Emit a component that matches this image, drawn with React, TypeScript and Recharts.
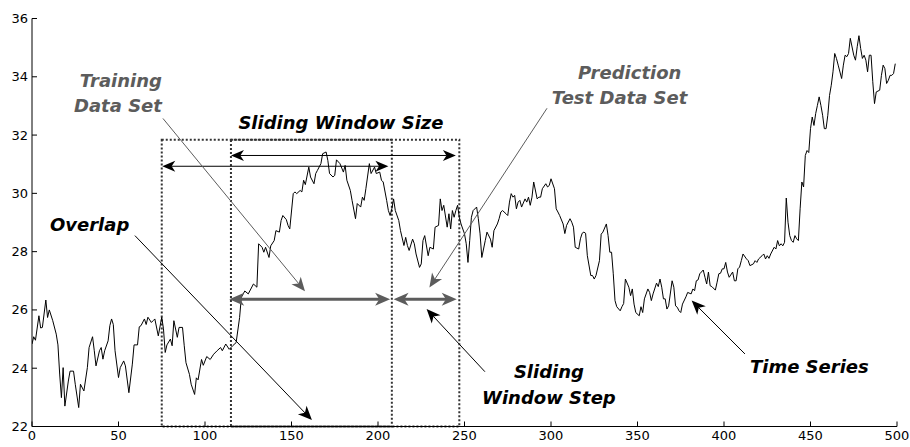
import React from "react"
import {
  LineChart,
  Line,
  XAxis,
  YAxis,
  ReferenceLine,
  ReferenceArea,
  ReferenceDot,
} from "recharts"

// time index of each sample
const steps = [
  0, 1, 2, 4, 5, 6, 8, 9, 10, 12, 14, 15, 16, 17, 18, 19, 21, 22, 24, 25, 27, 28, 30, 32, 33, 35, 36, 37, 39, 40,
  41, 42, 44, 45, 46, 47, 48, 50, 51, 53, 54, 56, 58, 59, 61, 62, 63, 65, 66, 67, 69, 70, 71, 73, 75, 76, 77, 78, 80, 81,
  82, 84, 85, 87, 88, 89, 91, 92, 94, 95, 96, 98, 99, 101, 103, 105, 107, 109, 110, 112, 114, 116, 118, 120, 121, 123, 125, 128, 130, 131,
  133, 134, 135, 137, 138, 140, 141, 143, 144, 145, 147, 148, 149, 151, 152, 153, 155, 156, 157, 158, 160, 161, 163, 164, 165, 167, 168, 170, 171, 172,
  174, 175, 176, 178, 180, 181, 182, 184, 185, 187, 188, 190, 191, 192, 193, 195, 196, 198, 199, 201, 202, 203, 205, 206, 207, 208, 209, 210, 212, 213,
  215, 216, 217, 218, 220, 221, 222, 224, 225, 226, 227, 229, 230, 232, 233, 235, 236, 237, 238, 240, 241, 242, 243, 244, 245, 246, 247, 248, 250, 251,
  252, 253, 254, 255, 257, 258, 259, 260, 262, 263, 265, 266, 267, 269, 270, 271, 272, 274, 275, 276, 277, 278, 279, 280, 281, 282, 283, 285, 286, 287,
  288, 289, 290, 292, 293, 294, 295, 297, 298, 299, 300, 302, 303, 304, 305, 307, 308, 309, 311, 312, 313, 314, 316, 317, 318, 319, 320, 321, 323, 324,
  325, 326, 328, 329, 330, 332, 333, 334, 335, 336, 337, 338, 340, 341, 342, 343, 345, 346, 347, 348, 349, 351, 352, 353, 354, 356, 357, 358, 359, 361,
  362, 363, 364, 365, 366, 367, 368, 370, 371, 372, 373, 374, 375, 376, 378, 379, 381, 382, 383, 384, 385, 386, 388, 389, 390, 391, 392, 393, 395, 396,
  397, 398, 399, 400, 401, 402, 403, 405, 406, 407, 408, 409, 410, 411, 413, 414, 415, 417, 418, 419, 420, 422, 423, 424, 425, 426, 427, 429, 430, 431,
  432, 433, 434, 435, 436, 437, 438, 439, 440, 441, 442, 443, 444, 445, 446, 447, 448, 449, 450, 451, 452, 453, 454, 455, 456, 457, 458, 459, 460, 461,
  462, 463, 464, 465, 466, 468, 469, 470, 471, 472, 473, 475, 476, 477, 478, 479, 480, 481, 482, 483, 484, 485, 486, 487, 488, 490, 491, 492, 493, 494,
  495, 496, 497, 498, 499,
]

// observed value of the series
const prices = [
  24.83, 25.08, 24.96, 25.8, 25.38, 25.4, 26.34, 25.74, 26.0, 25.63, 25.17, 24.8, 23.8, 22.99, 24.02, 22.7, 23.56, 23.9, 23.9, 23.45, 22.65, 23.45, 23.22, 24.02, 24.71, 25.08, 24.6, 24.08, 24.6, 24.71,
  24.31, 24.6, 24.94, 25.46, 25.69, 25.5, 24.6, 23.68, 24.02, 24.25, 24.08, 23.16, 24.14, 24.8, 24.8, 25.42, 25.46, 25.69, 25.5, 25.75, 25.57, 25.63, 25.69, 25.11, 25.75, 25.35, 24.54, 24.8, 25.0, 24.77,
  25.63, 25.06, 25.4, 25.4, 24.77, 24.19, 23.79, 23.45, 23.1, 23.67, 23.6, 24.3, 24.1, 24.4, 24.3, 24.48, 24.6, 24.71, 24.6, 24.83, 24.65, 24.77, 24.88, 25.74, 26.43, 26.65, 26.55, 26.89, 26.78, 28.27,
  28.15, 27.98, 28.15, 27.8, 28.2, 28.38, 28.72, 28.67, 29.07, 29.24, 29.1, 28.9, 28.78, 29.99, 30.05, 29.99, 30.1, 30.05, 30.45, 30.3, 30.9, 30.56, 30.33, 30.68, 30.79, 31.02, 31.36, 31.42, 31.13, 30.68,
  30.56, 30.62, 31.15, 31.02, 30.73, 30.96, 30.45, 30.1, 29.76, 29.13, 29.65, 29.53, 29.87, 29.76, 30.16, 31.02, 30.68, 30.9, 30.68, 30.73, 30.45, 30.39, 29.76, 29.41, 29.24, 29.47, 29.81, 29.41, 29.07, 28.72,
  28.21, 28.49, 28.21, 28.04, 28.43, 28.27, 27.92, 27.46, 27.58, 28.38, 28.55, 27.86, 28.15, 28.09, 28.84, 28.9, 29.81, 29.41, 29.59, 28.84, 29.3, 28.78, 29.41, 29.18, 29.41, 29.59, 29.18, 28.95, 28.61, 28.27,
  27.63, 28.38, 29.18, 29.41, 29.53, 29.13, 28.61, 27.8, 28.38, 28.67, 28.43, 28.15, 28.72, 28.95, 29.13, 29.36, 29.41, 29.3, 29.24, 29.7, 29.99, 29.87, 29.93, 29.47, 29.7, 29.76, 29.53, 29.81, 29.7, 29.87,
  29.59, 29.87, 30.39, 29.81, 29.87, 29.87, 30.16, 30.33, 30.22, 30.27, 30.5, 30.16, 29.47, 29.36, 29.24, 28.95, 28.62, 28.9, 29.13, 29.01, 28.84, 28.15, 28.09, 28.44, 28.63, 28.67, 28.63, 27.86, 27.18, 27.18,
  27.06, 27.18, 27.69, 28.6, 28.67, 28.95, 28.55, 27.98, 27.98, 27.24, 26.32, 26.11, 25.97, 26.11, 26.22, 27.06, 26.78, 26.49, 26.72, 26.2, 25.91, 25.8, 26.11, 25.91, 26.38, 26.72, 26.6, 26.32, 26.55, 26.92,
  26.8, 27.06, 26.78, 26.38, 26.38, 26.03, 26.14, 27.0, 26.78, 26.14, 26.09, 25.97, 25.91, 26.2, 26.45, 26.6, 26.55, 26.72, 26.66, 27.0, 27.03, 27.24, 27.37, 27.12, 26.89, 27.3, 26.83, 26.8, 26.68, 26.95,
  27.24, 27.26, 27.41, 27.41, 27.63, 27.3, 27.12, 27.3, 27.0, 27.0, 27.41, 27.47, 27.69, 27.92, 27.75, 27.69, 27.52, 27.58, 27.69, 27.63, 27.75, 27.86, 27.92, 27.75, 27.86, 27.77, 27.92, 28.15, 28.09, 28.38,
  28.2, 28.27, 28.2, 28.32, 29.84, 29.01, 28.55, 28.38, 28.32, 28.55, 28.44, 28.38, 29.47, 30.39, 30.22, 31.3, 31.47, 31.4, 32.22, 32.62, 32.33, 32.74, 33.02, 33.31, 33.02, 32.68, 32.22, 32.22, 32.68, 33.36,
  33.71, 34.17, 34.8, 34.63, 34.4, 33.94, 34.4, 34.74, 34.69, 34.8, 35.32, 34.74, 34.57, 35.03, 35.41, 34.97, 34.63, 34.74, 34.57, 34.17, 34.74, 34.74, 33.83, 33.08, 33.48, 33.54, 34.05, 34.4, 34.28, 33.77,
  33.88, 34.05, 34.05, 34.11, 34.45,
]

const xTicks = [0, 50, 100, 150, 200, 250, 300, 350, 400, 450, 500]
const yTicks = [22, 24, 26, 28, 30, 32, 34, 36]

// training window and prediction window (time index), window top value
const windowA = [75, 208]
const windowB = [115, 247]
const windowTop = 31.84

const series = steps.map((t, i) => ({ t, v: prices[i] }))

const FONT = "'DejaVu Sans', Verdana, sans-serif"
const GRAY = "#5c5c5c"
const TICK = 5

function bottomTick(p: any) {
  const axisY = p.y - 2
  return (
    <g>
      <line x1={p.x} x2={p.x} y1={axisY} y2={axisY - TICK} stroke="#000" />
      <text x={p.x} y={axisY + 13} textAnchor="middle" fontSize={13} fontFamily={FONT} fill="#000">
        {p.payload.value}
      </text>
    </g>
  )
}

function leftTick(p: any) {
  return (
    <g>
      <line x1={p.x} x2={p.x + TICK} y1={p.y} y2={p.y} stroke="#000" />
      <text x={p.x - 4} y={p.y + 4.5} textAnchor="end" fontSize={13} fontFamily={FONT} fill="#000">
        {p.payload.value}
      </text>
    </g>
  )
}

const topTick = (p: any) => <line x1={p.x} x2={p.x} y1={p.y} y2={p.y + TICK} stroke="#000" />
const rightTick = (p: any) => <line x1={p.x} x2={p.x - TICK} y1={p.y} y2={p.y} stroke="#000" />

// line with a notched arrow head at the end (and at the start when both=true)
function arrow(color: string, width: number, len: number, half: number, both: boolean) {
  return (p: any) => {
    const { x1, y1, x2, y2 } = p
    const d = Math.hypot(x2 - x1, y2 - y1) || 1
    const ux = (x2 - x1) / d
    const uy = (y2 - y1) / d
    const head = (tx: number, ty: number, sx: number, sy: number) => {
      const bx = tx - sx * len
      const by = ty - sy * len
      const cx = tx - sx * len * 0.72
      const cy = ty - sy * len * 0.72
      return `${tx},${ty} ${bx - sy * half},${by + sx * half} ${cx},${cy} ${bx + sy * half},${by - sx * half}`
    }
    const inset = len * 0.7
    return (
      <g>
        <line
          x1={both ? x1 + ux * inset : x1}
          y1={both ? y1 + uy * inset : y1}
          x2={x2 - ux * inset}
          y2={y2 - uy * inset}
          stroke={color}
          strokeWidth={width}
        />
        <polygon points={head(x2, y2, ux, uy)} fill={color} />
        {both && <polygon points={head(x1, y1, -ux, -uy)} fill={color} />}
      </g>
    )
  }
}

const blackDouble = arrow("#000", 1, 13, 5.5, true)
const blackSingle = arrow("#000", 1, 14, 6, false)
const grayDouble = arrow(GRAY, 3, 15, 6.5, true)
const graySingle = arrow(GRAY, 1, 14, 6, false)

function label(lines: string, color: string, anchor: string) {
  return (p: any) => (
    <text
      x={p.cx}
      y={p.cy}
      textAnchor={anchor}
      fontSize={18}
      fontWeight="bold"
      fontStyle="italic"
      fontFamily={FONT}
      fill={color}
    >
      {lines}
    </text>
  )
}

export default function App() {
  return (
    <div style={{ position: "absolute", left: 0, top: 0, background: "#fff" }}>
      <LineChart
        width={910}
        height={447}
        data={series}
        margin={{ top: 18.5, right: 13, bottom: 0, left: 0 }}
      >
        <XAxis
          dataKey="t"
          type="number"
          domain={[0, 500]}
          ticks={xTicks}
          interval={0}
          height={20.5}
          tickSize={0}
          tickMargin={2}
          tickLine={false}
          axisLine={{ stroke: "#000" }}
          tick={bottomTick}
          allowDataOverflow
        />
        <XAxis
          xAxisId="top"
          orientation="top"
          type="number"
          domain={[0, 500]}
          ticks={xTicks}
          interval={0}
          height={0}
          tickSize={0}
          tickMargin={0}
          tickLine={false}
          axisLine={{ stroke: "#000" }}
          tick={topTick}
        />
        <YAxis
          type="number"
          domain={[22, 36]}
          ticks={yTicks}
          interval={0}
          width={32}
          tickSize={0}
          tickMargin={0}
          tickLine={false}
          axisLine={{ stroke: "#000" }}
          tick={leftTick}
          allowDataOverflow
        />
        <YAxis
          yAxisId="right"
          orientation="right"
          type="number"
          domain={[22, 36]}
          ticks={yTicks}
          interval={0}
          width={0}
          tickSize={0}
          tickMargin={0}
          tickLine={false}
          axisLine={{ stroke: "#000" }}
          tick={rightTick}
        />

        <ReferenceArea
          x1={windowA[0]}
          x2={windowA[1]}
          y1={22}
          y2={windowTop}
          fill="none"
          fillOpacity={0}
          stroke="#333"
          strokeWidth={2}
          strokeDasharray="2 2"
        />
        <ReferenceArea
          x1={windowB[0]}
          x2={windowB[1]}
          y1={22}
          y2={windowTop}
          fill="none"
          fillOpacity={0}
          stroke="#333"
          strokeWidth={2}
          strokeDasharray="2 2"
        />

        <Line
          dataKey="v"
          type="linear"
          stroke="#000"
          strokeWidth={1}
          dot={false}
          activeDot={false}
          isAnimationActive={false}
        />

        {/* window size arrows */}
        <ReferenceLine segment={[{ x: 115, y: 31.3 }, { x: 245, y: 31.3 }]} shape={blackDouble} />
        <ReferenceLine segment={[{ x: 75.3, y: 30.93 }, { x: 206, y: 30.93 }]} shape={blackDouble} />

        {/* training / prediction span arrows */}
        <ReferenceLine segment={[{ x: 114, y: 26.37 }, { x: 207, y: 26.37 }]} shape={grayDouble} />
        <ReferenceLine segment={[{ x: 209, y: 26.37 }, { x: 245.5, y: 26.37 }]} shape={grayDouble} />

        {/* pointers from labels */}
        <ReferenceLine segment={[{ x: 75.7, y: 32.57 }, { x: 157.8, y: 26.64 }]} shape={graySingle} />
        <ReferenceLine segment={[{ x: 297.7, y: 32.92 }, { x: 229.7, y: 26.77 }]} shape={graySingle} />
        <ReferenceLine segment={[{ x: 59.5, y: 28.55 }, { x: 161.8, y: 22.22 }]} shape={blackSingle} />
        <ReferenceLine segment={[{ x: 261.8, y: 23.88 }, { x: 228.1, y: 26.03 }]} shape={blackSingle} />
        <ReferenceLine segment={[{ x: 412.1, y: 24.49 }, { x: 381.3, y: 26.32 }]} shape={blackSingle} />

        {/* annotation texts */}
        <ReferenceDot x={75.1} y={33.64} r={0} shape={label("Training", GRAY, "end")} />
        <ReferenceDot x={75.1} y={32.8} r={0} shape={label("Data Set", GRAY, "end")} />
        <ReferenceDot x={178.6} y={32.22} r={0} shape={label("Sliding Window Size", "#000", "middle")} />
        <ReferenceDot x={315.6} y={33.92} r={0} shape={label("Prediction", GRAY, "start")} />
        <ReferenceDot x={300.4} y={33.06} r={0} shape={label("Test Data Set", GRAY, "start")} />
        <ReferenceDot x={10.4} y={28.72} r={0} shape={label("Overlap", "#000", "start")} />
        <ReferenceDot x={298.8} y={23.66} r={0} shape={label("Sliding", "#000", "middle")} />
        <ReferenceDot x={298.8} y={22.78} r={0} shape={label("Window Step", "#000", "middle")} />
        <ReferenceDot x={415} y={23.82} r={0} shape={label("Time Series", "#000", "start")} />
      </LineChart>
    </div>
  )
}
